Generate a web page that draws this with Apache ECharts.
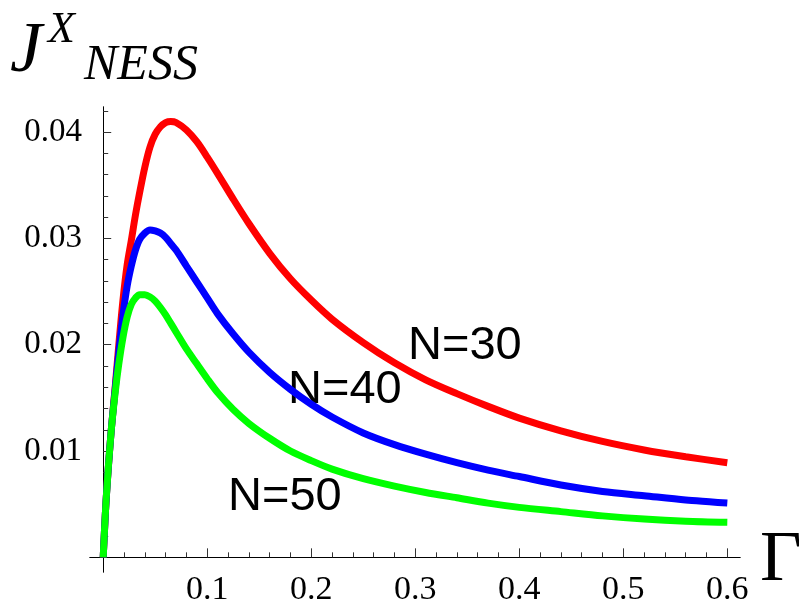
<!DOCTYPE html>
<html>
<head>
<meta charset="utf-8">
<script src="https://cdn.jsdelivr.net/npm/echarts@6.0.0/dist/echarts.min.js"></script>
<style>
  html, body { margin: 0; padding: 0; background: #fff; }
  #chart { width: 799px; height: 608px; }
</style>
</head>
<body>
<div id="chart"></div>
<script>
// Gamma values (x axis)
const gamma = [0, 0.003, 0.0075, 0.0115, 0.015, 0.019, 0.023, 0.027, 0.031, 0.035, 0.04, 0.045, 0.05, 0.055,
  0.06, 0.065, 0.07, 0.08, 0.09, 0.1, 0.11, 0.125, 0.14, 0.16, 0.18, 0.2, 0.22, 0.25, 0.28, 0.31, 0.34,
  0.37, 0.4, 0.44, 0.48, 0.52, 0.56, 0.6]

// J^X_NESS for each N
const jN30 = [0, 0.0057, 0.0117, 0.0160, 0.0200, 0.0242, 0.0275, 0.0298, 0.0322, 0.0343, 0.0367, 0.0386, 0.0398, 0.0405,
  0.0409, 0.0410, 0.0409, 0.0402, 0.0391, 0.03765, 0.0361, 0.0337, 0.0314, 0.0286, 0.0262, 0.0242, 0.0224, 0.0202, 0.0183,
  0.0167, 0.0154, 0.0142, 0.0131, 0.0119, 0.0109, 0.0101, 0.00946, 0.0089]
const jN40 = [0, 0.0057, 0.0117, 0.0158, 0.0193, 0.0228, 0.0255, 0.0274, 0.0289, 0.0299, 0.0305, 0.0308, 0.0307, 0.0305,
  0.0301, 0.0295, 0.0289, 0.0274, 0.0259, 0.0244, 0.0229, 0.0210, 0.0193, 0.0174, 0.0158, 0.0144, 0.0132, 0.0117, 0.0106,
  0.0097, 0.0089, 0.0082, 0.0076, 0.0068, 0.0062, 0.0058, 0.0054, 0.0051]
const jN50 = [0, 0.0057, 0.0117, 0.0155, 0.0182, 0.0207, 0.0226, 0.0238, 0.0244, 0.0247, 0.0247, 0.0245, 0.0241, 0.0235,
  0.0228, 0.0220, 0.0212, 0.0196, 0.0182, 0.0168, 0.0155, 0.0139, 0.0126, 0.0112, 0.0100, 0.0091, 0.0083, 0.0074, 0.0067,
  0.0061, 0.0056, 0.0051, 0.0047, 0.0043, 0.0039, 0.0036, 0.0034, 0.0033]

// ticks
const xMajor = [0.1, 0.2, 0.3, 0.4, 0.5, 0.6]
const xMinor = [0.02, 0.04, 0.06, 0.08, 0.12, 0.14, 0.16, 0.18, 0.22, 0.24, 0.26, 0.28, 0.32, 0.34, 0.36, 0.38,
  0.42, 0.44, 0.46, 0.48, 0.52, 0.54, 0.56, 0.58]
const yMajor = [0.01, 0.02, 0.03, 0.04]
const yMinor = [0.002, 0.004, 0.006, 0.008, 0.012, 0.014, 0.016, 0.018, 0.022, 0.024, 0.026, 0.028,
  0.032, 0.034, 0.036, 0.038, 0.042]

const serif = 'Liberation Serif'

function pairs(ys) {
  return gamma.map((g, i) => [g, ys[i]])
}

function xAxisCfg(ticks, len, labels) {
  return {
    type: 'value',
    position: 'bottom',
    min: -0.0127,
    max: 0.6122,
    splitLine: { show: false },
    axisLine: { show: true, onZero: true, lineStyle: { color: '#000', width: 1 } },
    axisTick: { show: true, inside: true, length: len, customValues: ticks, lineStyle: { color: '#333' } },
    axisLabel: labels ? {
      show: true, customValues: labels, margin: 1,
      fontFamily: serif, fontSize: 34, color: '#000',
      formatter: v => v.toFixed(1)
    } : { show: false }
  }
}

function yAxisCfg(ticks, len, labels) {
  return {
    type: 'value',
    position: 'left',
    min: -0.00138,
    max: 0.04236,
    splitLine: { show: false },
    axisLine: { show: true, onZero: true, lineStyle: { color: '#000', width: 1 } },
    axisTick: { show: true, inside: true, length: len, customValues: ticks, lineStyle: { color: '#333' } },
    axisLabel: labels ? {
      show: true, customValues: labels, margin: 8,
      fontFamily: serif, fontSize: 33, color: '#000',
      formatter: v => v.toFixed(2)
    } : { show: false }
  }
}

function lineSeries(name, ys, color) {
  return {
    name: name,
    type: 'line',
    data: pairs(ys),
    showSymbol: false,
    smooth: 0.3,
    lineStyle: { color: color, width: 7, cap: 'butt' },
    itemStyle: { color: color }
  }
}

let chart = echarts.init(document.getElementById('chart'))
chart.setOption({
  animation: false,
  backgroundColor: '#fff',
  grid: { left: 90, top: 107, width: 650, height: 465, containLabel: false, outerBoundsMode: 'none' },
  xAxis: [xAxisCfg(xMajor, 9, xMajor), xAxisCfg(xMinor, 5, null)],
  yAxis: [yAxisCfg(yMajor, 8, yMajor), yAxisCfg(yMinor, 5, null)],
  series: [
    lineSeries('N=30', jN30, '#ff0000'),
    lineSeries('N=40', jN40, '#0000ff'),
    lineSeries('N=50', jN50, '#00ff00')
  ],
  graphic: [
    // axis titles
    { type: 'text', style: { x: 10, y: 52, text: 'J', font: 'italic 72px "Liberation Serif"', fill: '#000', verticalAlign: 'middle' } },
    { type: 'text', style: { x: 48, y: 30, text: 'X', font: 'italic 44px "Liberation Serif"', fill: '#000', verticalAlign: 'middle' } },
    { type: 'text', style: { x: 84, y: 66, text: 'NESS', font: 'italic 50px "Liberation Serif"', fill: '#000', verticalAlign: 'middle' } },
    { type: 'text', style: { x: 760, y: 561, text: 'Γ', font: '72px "Liberation Serif"', fill: '#000', verticalAlign: 'middle' } },
    // curve labels
    { type: 'text', style: { x: 408, y: 346, text: 'N=30', font: '47px "Liberation Sans"', fill: '#000', verticalAlign: 'middle' } },
    { type: 'text', style: { x: 288, y: 390, text: 'N=40', font: '47px "Liberation Sans"', fill: '#000', verticalAlign: 'middle' } },
    { type: 'text', style: { x: 228, y: 497, text: 'N=50', font: '47px "Liberation Sans"', fill: '#000', verticalAlign: 'middle' } }
  ]
})
</script>
</body>
</html>
